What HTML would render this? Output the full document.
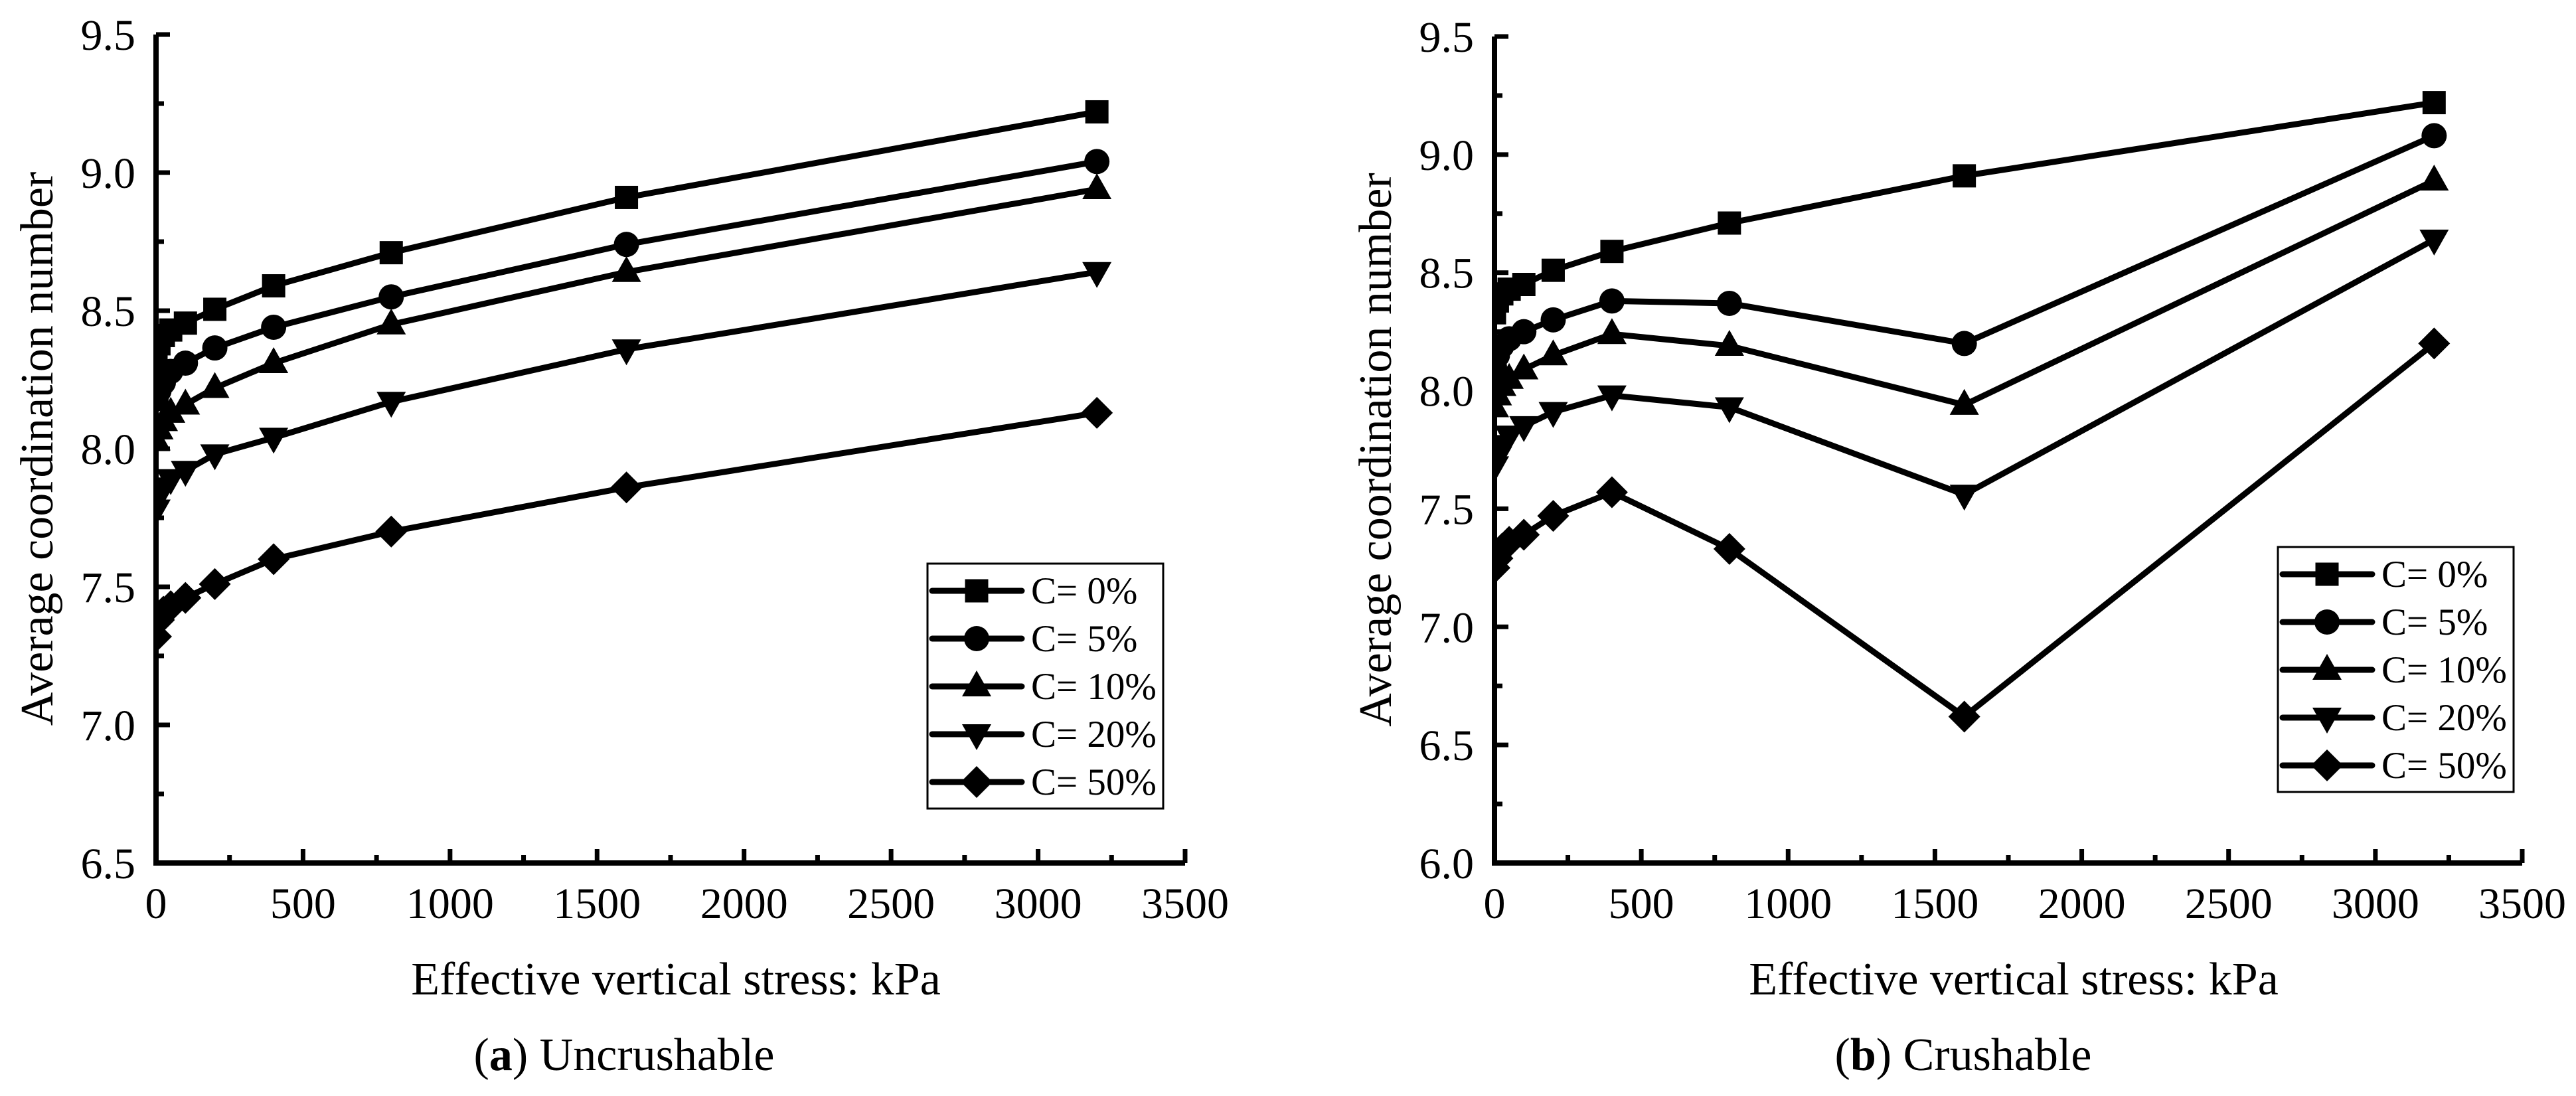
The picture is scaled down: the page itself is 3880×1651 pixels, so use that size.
<!DOCTYPE html>
<html><head><meta charset="utf-8"><style>
html,body{margin:0;padding:0;background:#fff;}
svg{display:block;font-family:"Liberation Serif","Times New Roman",serif;}
text{font-family:"Liberation Serif","Times New Roman",serif;}
</style></head><body>
<svg id="fig" width="3880" height="1651" viewBox="0 0 3880 1651" xmlns="http://www.w3.org/2000/svg">
<rect width="3880" height="1651" fill="#fff"/>
</svg>
<script>
const stress = [0, 10, 25, 50, 100, 200, 400, 800, 1600, 3200];
const seriesLabels = ["C= 0%", "C= 5%", "C= 10%", "C= 20%", "C= 50%"];
const markerTypes = ["square", "circle", "up", "down", "diamond"];
const xTicks = [0, 500, 1000, 1500, 2000, 2500, 3000, 3500];
const yTicksA = [6.5, 7.0, 7.5, 8.0, 8.5, 9.0, 9.5];
const yTicksB = [6.0, 6.5, 7.0, 7.5, 8.0, 8.5, 9.0, 9.5];
// (a) Uncrushable
const a_c0  = [8.33, 8.38, 8.41, 8.43, 8.455, 8.505, 8.59, 8.71, 8.91, 9.22];
const a_c5  = [8.18, 8.21, 8.24, 8.28, 8.31, 8.365, 8.44, 8.55, 8.74, 9.04];
const a_c10 = [8.03, 8.07, 8.10, 8.13, 8.16, 8.22, 8.31, 8.45, 8.64, 8.94];
const a_c20 = [7.78, 7.83, 7.86, 7.89, 7.92, 7.98, 8.04, 8.17, 8.36, 8.64];
const a_c50 = [7.32, 7.38, 7.41, 7.43, 7.46, 7.51, 7.60, 7.70, 7.86, 8.13];
// (b) Crushable
const b_c0  = [8.33, 8.38, 8.41, 8.43, 8.45, 8.51, 8.59, 8.71, 8.91, 9.22];
const b_c5  = [8.10, 8.15, 8.19, 8.22, 8.25, 8.30, 8.38, 8.37, 8.20, 9.08];
const b_c10 = [7.93, 7.98, 8.02, 8.05, 8.09, 8.15, 8.24, 8.19, 7.94, 8.89];
const b_c20 = [7.68, 7.72, 7.77, 7.81, 7.85, 7.91, 7.98, 7.93, 7.56, 8.64];
const b_c50 = [7.25, 7.29, 7.33, 7.36, 7.39, 7.47, 7.57, 7.33, 6.62, 8.20];

const NS = "http://www.w3.org/2000/svg";
const FONT = '"Liberation Serif", "Times New Roman", serif';
const svg = document.getElementById("fig");
function mk(tag, attrs, parent){
  const e = document.createElementNS(NS, tag);
  for (const k in attrs) e.setAttribute(k, attrs[k]);
  if (tag === "text") e.setAttribute("font-family", FONT);
  (parent || svg).appendChild(e);
  return e;
}
function marker(type, cx, cy, g){
  let e;
  if (type === "square") e = mk("rect", {x: cx-17.5, y: cy-17.5, width: 35, height: 35, fill: "#000"}, g);
  else if (type === "circle") e = mk("circle", {cx: cx, cy: cy, r: 19, fill: "#000"}, g);
  else if (type === "up") e = mk("polygon", {points: `${cx},${cy-24} ${cx+22},${cy+15} ${cx-22},${cy+15}`, fill: "#000"}, g);
  else if (type === "down") e = mk("polygon", {points: `${cx},${cy+24} ${cx+22},${cy-15} ${cx-22},${cy-15}`, fill: "#000"}, g);
  else e = mk("polygon", {points: `${cx},${cy-24} ${cx+24},${cy} ${cx},${cy+24} ${cx-24},${cy}`, fill: "#000"}, g);
  return e;
}

function panel(cfg){
  const {id, x0, x1, yTop, yBot, ymin, ymax, yTicks, series, legend, yTitleX, caption, bold} = cfg;
  const sx = v => x0 + (v/3500)*(x1-x0);
  const sy = v => yBot - (v-ymin)/(ymax-ymin)*(yBot-yTop);
  const g = mk("g", {});
  
  
  const clip = mk("clipPath", {id: id+"-clip"}, g);
  mk("rect", {x: x0, y: yTop-30, width: x1-x0+40, height: yBot-yTop+30}, clip);

  const ax = mk("path", {d: `M${x0},${yTop} L${x0},${yBot} L${x1},${yBot}`, stroke: "#000", "stroke-width": 8, fill: "none"}, g);
  
  
  yTicks.forEach((t, i) => {
    const y = sy(t);
    mk("line", {x1: x0, x2: x0+21, y1: y, y2: y, stroke: "#000", "stroke-width": 7}, g);
    if (i < yTicks.length-1) {
      const ym = sy(t + 0.25);
      mk("line", {x1: x0, x2: x0+12, y1: ym, y2: ym, stroke: "#000", "stroke-width": 7}, g);
    }
    const tx = mk("text", {x: x0-31, y: y+23, "font-size": 66, "text-anchor": "end"}, g);
    tx.textContent = t.toFixed(1);
    
    
  });
  xTicks.forEach((t, i) => {
    const x = sx(t);
    mk("line", {x1: x, x2: x, y1: yBot, y2: yBot-21, stroke: "#000", "stroke-width": 7}, g);
    if (i < xTicks.length-1) {
      const xm = sx(t + 250);
      mk("line", {x1: xm, x2: xm, y1: yBot, y2: yBot-12, stroke: "#000", "stroke-width": 7}, g);
    }
    const tx = mk("text", {x: x, y: 1383, "font-size": 66, "text-anchor": "middle"}, g);
    tx.textContent = t;
    
    
  });
  series.forEach((vals, si) => {
    const sg = mk("g", {"clip-path": `url(#${id}-clip)`}, g);
    
    
    const d = vals.map((v, k) => (k ? "L" : "M") + sx(stress[k]) + "," + sy(v)).join(" ");
    mk("path", {d: d, stroke: "#000", "stroke-width": 9, fill: "none", "stroke-linejoin": "round"}, sg);
    vals.forEach((v, k) => {
      const m = marker(markerTypes[si], sx(stress[k]), sy(v), sg);
      
      
    });
  });
  const lg = mk("g", {}, g);
  
  
  mk("rect", {x: legend.x, y: legend.y, width: 355, height: 369, fill: "#fff", stroke: "#000", "stroke-width": 3}, lg);
  seriesLabels.forEach((lab, i) => {
    const ry = legend.y + 41 + i*72;
    const eg = mk("g", {}, lg);
    
    
    mk("line", {x1: legend.x+7, x2: legend.x+142, y1: ry, y2: ry, stroke: "#000", "stroke-width": 9, "stroke-linecap": "round"}, eg);
    marker(markerTypes[i], legend.x+74, ry, eg);
    const t = mk("text", {x: legend.x+156, y: ry+19, "font-size": 57}, eg);
    t.textContent = lab;
  });
  const xt = mk("text", {x: (x0+x1)/2 + 8, y: 1498, "font-size": 70, "text-anchor": "middle"}, g);
  xt.textContent = "Effective vertical stress: kPa";
  
  
  const yc = (yTop+yBot)/2;
  const yt = mk("text", {x: 0, y: 0, "font-size": 70, "text-anchor": "middle", transform: `translate(${yTitleX},${yc}) rotate(-90)`}, g);
  yt.textContent = "Average coordination number";
  
  
  const cap = mk("text", {x: caption, y: 1612, "font-size": 70, "text-anchor": "middle"}, g);
  
  
  const t1 = mk("tspan", {}, cap); t1.textContent = "(";
  const t2 = mk("tspan", {"font-weight": "bold"}, cap); t2.textContent = bold;
  const t3 = mk("tspan", {}, cap); t3.textContent = ") " + (bold === "a" ? "Uncrushable" : "Crushable");
}

panel({id: "uncrushable", x0: 235, x1: 1785, yTop: 52, yBot: 1300, ymin: 6.5, ymax: 9.5, yTicks: yTicksA,
  series: [a_c0, a_c5, a_c10, a_c20, a_c50], legend: {x: 1397, y: 849}, yTitleX: 79, caption: 940, bold: "a"});
panel({id: "crushable", x0: 2251, x1: 3799, yTop: 55, yBot: 1300, ymin: 6.0, ymax: 9.5, yTicks: yTicksB,
  series: [b_c0, b_c5, b_c10, b_c20, b_c50], legend: {x: 3431, y: 824}, yTitleX: 2095, caption: 2957, bold: "b"});
</script>
</body></html>
